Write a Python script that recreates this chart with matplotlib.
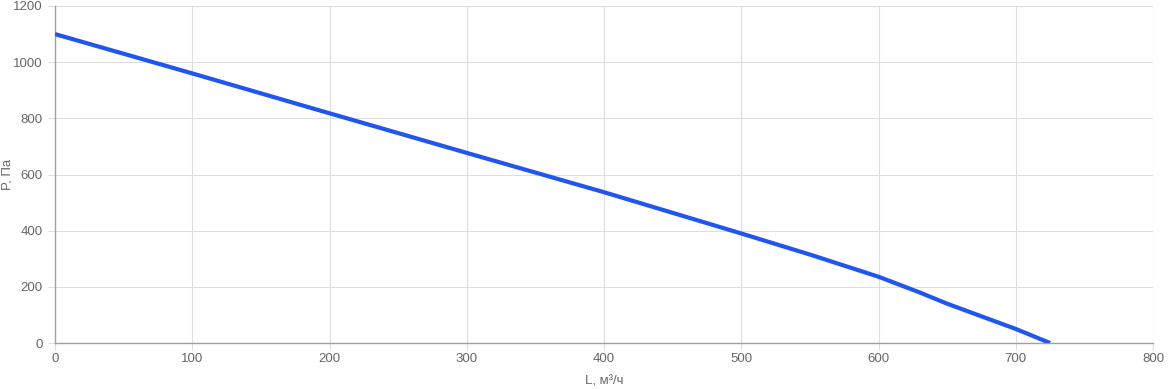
import matplotlib
matplotlib.use('Agg')
import matplotlib.pyplot as plt

# Fan curve: airflow L (m3/h) vs pressure P (Pa)
flow = [0, 100, 200, 300, 400, 500, 550, 600, 615, 630, 650, 700, 725]
pressure = [1100, 960, 818, 677, 537, 390, 315, 236, 208, 180, 140, 50, 0]

x_ticks = [0, 100, 200, 300, 400, 500, 600, 700, 800]
y_ticks = [0, 200, 400, 600, 800, 1000, 1200]

plt.rcParams['font.family'] = ['Liberation Sans', 'DejaVu Sans']

fig = plt.figure(figsize=(11.68, 3.89), dpi=100)
ax = fig.add_axes([55 / 1168, 1 - 343 / 389, 1098 / 1168, 337 / 389])

ax.plot(flow, pressure, color='#1f55f0', linewidth=3, solid_capstyle='butt', zorder=3)

ax.set_xlim(0, 800)
ax.set_ylim(0, 1200)
ax.set_xticks(x_ticks)
ax.set_yticks(y_ticks)
ax.grid(True, color='#dedede', linewidth=0.8)
ax.set_axisbelow(True)

for side in ['top', 'right']:
    ax.spines[side].set_visible(False)
for side in ['left', 'bottom']:
    ax.spines[side].set_color('#a0a0a0')
    ax.spines[side].set_linewidth(1)

ax.tick_params(axis='both', colors='#dedede', length=5, width=0.8,
               labelcolor='#666666', labelsize=9.5)
ax.tick_params(axis='x', pad=2)
ax.tick_params(axis='y', pad=4)

ax.set_xlabel('L, м³/ч', fontsize=9.5, color='#666666')
ax.set_ylabel('P, Па', fontsize=9.5, color='#666666')
# place axis titles like the reference (axes fraction coords)
ax.xaxis.set_label_coords(0.5, -39 / 337)
ax.yaxis.set_label_coords(-48 / 1098, 0.5)
ax.xaxis.label.set_va('center')
ax.yaxis.label.set_va('center')

fig.savefig('out.png', dpi=100)
